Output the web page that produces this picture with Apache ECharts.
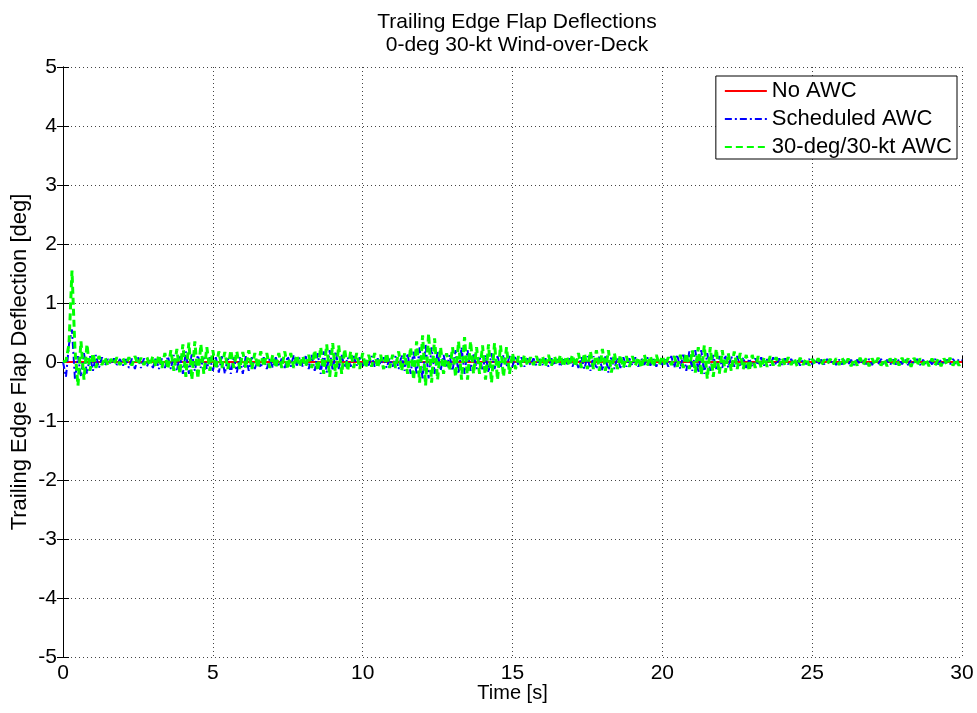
<!DOCTYPE html>
<html>
<head>
<meta charset="utf-8">
<script src="https://cdn.jsdelivr.net/npm/echarts@6/dist/echarts.min.js"></script>
<style>
  html, body { margin: 0; padding: 0; background: #fff; }
  #chart { width: 977px; height: 713px; }
</style>
</head>
<body>
<div id="chart"></div>
<script>
// Sampling of the recorded flap deflection histories
const sampleStart = 0;     // s
const sampleStep = 0.1;    // s

// No AWC: flap stays at neutral (coarse record, every 2 s)
const noAwcTimes = [0, 2, 4, 6, 8, 10, 12, 14, 16, 18, 20, 22, 24, 26, 28, 30];
const noAwcDeflection = [0, 0, 0, 0, 0, 0, 0, 0, 0, 0, 0, 0, 0, 0, 0, 0];

// Scheduled AWC deflection [deg], every 0.1 s from 0 to 30 s (one row per second)
const scheduledDeflection = [
  0, -0.25, 0.3, 0.55, -0.3, 0.1, -0.25, 0.15, -0.2, 0.1,
  -0.15, 0.12, -0.1, 0.08, -0.06, 0.05, -0.04, 0.06, -0.05, 0.05,
  -0.06, 0.05, -0.1, 0.06, -0.12, 0.08, -0.1, 0.06, -0.08, 0.05,
  -0.1, 0.08, -0.12, 0.06, -0.1, 0.1, -0.12, 0.12, -0.15, 0.12,
  -0.2, 0.18, -0.2, 0.15, -0.15, 0.12, -0.1, 0.1, -0.12, 0.08,
  -0.15, 0.08, -0.18, 0.1, -0.2, 0.08, -0.2, 0.1, -0.18, 0.08,
  -0.2, 0.1, -0.15, 0.08, -0.12, 0.06, -0.1, 0.08, -0.12, 0.06,
  -0.1, 0.08, -0.08, 0.06, -0.1, 0.1, -0.08, 0.12, -0.06, 0.08,
  -0.08, 0.1, -0.12, 0.12, -0.15, 0.15, -0.2, 0.18, -0.18, 0.2,
  -0.15, 0.18, -0.12, 0.12, -0.1, 0.08, -0.08, 0.1, -0.06, 0.08,
  -0.08, 0.06, -0.06, 0.1, -0.08, 0.06, -0.05, 0.08, -0.1, 0.06,
  -0.08, 0.1, -0.12, 0.12, -0.15, 0.15, -0.2, 0.2, -0.22, 0.25,
  -0.3, 0.3, -0.28, 0.25, -0.2, 0.18, -0.15, 0.12, -0.1, 0.12,
  -0.15, 0.2, -0.2, 0.25, -0.2, 0.2, -0.15, 0.15, -0.12, 0.1,
  -0.15, 0.12, -0.18, 0.15, -0.12, 0.1, -0.1, 0.12, -0.08, 0.1,
  -0.08, 0.1, -0.06, 0.08, -0.08, 0.06, -0.05, 0.06, -0.06, 0.05,
  -0.05, 0.06, -0.08, 0.06, -0.06, 0.05, -0.08, 0.06, -0.05, 0.06,
  -0.08, 0.06, -0.1, 0.08, -0.12, 0.1, -0.15, 0.1, -0.12, 0.1,
  -0.15, 0.12, -0.18, 0.1, -0.12, 0.08, -0.1, 0.08, -0.08, 0.06,
  -0.06, 0.08, -0.08, 0.06, -0.05, 0.08, -0.06, 0.05, -0.08, 0.06,
  -0.05, 0.06, -0.08, 0.1, -0.1, 0.12, -0.12, 0.15, -0.15, 0.18,
  -0.15, 0.2, -0.18, 0.2, -0.2, 0.15, -0.15, 0.12, -0.12, 0.1,
  -0.1, 0.12, -0.1, 0.1, -0.08, 0.1, -0.08, 0.08, -0.1, 0.06,
  -0.08, 0.06, -0.06, 0.08, -0.06, 0.05, -0.06, 0.08, -0.05, 0.06,
  -0.05, 0.06, -0.04, 0.05, -0.05, 0.04, -0.06, 0.05, -0.04, 0.05,
  -0.04, 0.05, -0.05, 0.04, -0.04, 0.05, -0.04, 0.04, -0.05, 0.04,
  -0.04, 0.05, -0.05, 0.04, -0.05, 0.04, -0.04, 0.05, -0.04, 0.05,
  -0.05, 0.04, -0.04, 0.05, -0.05, 0.04, -0.05, 0.04, -0.04, 0.05,
  -0.04, 0.05, -0.05, 0.04, -0.04, 0.05, -0.05, 0.04, -0.05, 0.04,
  -0.04, 0.05, -0.04, 0.04, -0.05, 0.04, -0.04, 0.05, -0.03, 0.05,
  0.03
];

// 30-deg/30-kt AWC deflection [deg], every 0.1 s from 0 to 30 s (one row per second)
const awc30Deflection = [
  0, 0.02, 0.3, 1.55, 0.2, -0.4, 0.35, -0.3, 0.3, -0.15,
  0.15, -0.1, 0.1, -0.05, 0.08, -0.06, 0.05, -0.04, 0.08, -0.05,
  0.06, -0.05, 0.08, -0.06, 0.1, -0.04, 0.07, -0.05, 0.08, -0.06,
  0.1, -0.08, 0.12, -0.1, 0.15, -0.12, 0.2, -0.15, 0.22, -0.2,
  0.3, -0.25, 0.33, -0.3, 0.35, -0.28, 0.3, -0.2, 0.25, -0.15,
  0.2, -0.12, 0.18, -0.1, 0.17, -0.12, 0.2, -0.1, 0.18, -0.12,
  0.17, -0.1, 0.2, -0.12, 0.15, -0.1, 0.18, -0.08, 0.15, -0.1,
  0.12, -0.1, 0.15, -0.1, 0.18, -0.12, 0.15, -0.1, 0.12, -0.08,
  0.1, -0.08, 0.12, -0.1, 0.2, -0.15, 0.25, -0.2, 0.3, -0.25,
  0.32, -0.25, 0.28, -0.2, 0.22, -0.15, 0.18, -0.1, 0.15, -0.12,
  0.15, -0.1, 0.12, -0.08, 0.15, -0.1, 0.12, -0.12, 0.15, -0.1,
  0.12, -0.1, 0.18, -0.15, 0.15, -0.2, 0.25, -0.3, 0.35, -0.35,
  0.45, -0.4, 0.48, -0.35, 0.4, -0.3, 0.25, -0.2, 0.15, -0.15,
  0.25, -0.25, 0.35, -0.3, 0.42, -0.3, 0.35, -0.2, 0.25, -0.2,
  0.28, -0.3, 0.3, -0.35, 0.32, -0.3, 0.28, -0.25, 0.25, -0.2,
  0.15, -0.12, 0.1, -0.08, 0.12, -0.06, 0.08, -0.05, 0.1, -0.06,
  0.1, -0.08, 0.12, -0.06, 0.1, -0.05, 0.12, -0.08, 0.1, -0.06,
  0.12, -0.08, 0.15, -0.1, 0.15, -0.12, 0.18, -0.12, 0.2, -0.15,
  0.22, -0.15, 0.2, -0.18, 0.15, -0.12, 0.12, -0.1, 0.1, -0.08,
  0.1, -0.06, 0.08, -0.1, 0.12, -0.06, 0.1, -0.08, 0.12, -0.05,
  0.1, -0.06, 0.08, -0.05, 0.1, -0.08, 0.12, -0.1, 0.15, -0.12,
  0.2, -0.18, 0.25, -0.22, 0.28, -0.28, 0.25, -0.25, 0.22, -0.2,
  0.2, -0.18, 0.15, -0.15, 0.18, -0.12, 0.15, -0.12, 0.12, -0.15,
  0.12, -0.1, 0.1, -0.1, 0.08, -0.08, 0.1, -0.06, 0.08, -0.07,
  0.07, -0.06, 0.08, -0.05, 0.06, -0.07, 0.07, -0.05, 0.06, -0.06,
  0.05, -0.04, 0.06, -0.05, 0.04, -0.03, 0.05, -0.04, 0.06, -0.05,
  0.07, -0.06, 0.06, -0.07, 0.05, -0.06, 0.07, -0.05, 0.06, -0.07,
  0.06, -0.05, 0.07, -0.06, 0.05, -0.07, 0.06, -0.05, 0.07, -0.06,
  0.07, -0.05, 0.06, -0.08, 0.07, -0.06, 0.06, -0.05, 0.05, -0.07,
  0.06, -0.06, 0.05, -0.07, 0.06, -0.05, 0.07, -0.06, 0.05, -0.06,
  0.02
];

const seriesNames = ['No AWC', 'Scheduled AWC', '30-deg/30-kt AWC'];
const timeTicks = [0, 5, 10, 15, 20, 25, 30];
const deflectionTicks = [-5, -4, -3, -2, -1, 0, 1, 2, 3, 4, 5];

const font = '"Liberation Sans", Arial, Helvetica, sans-serif';

function sampled(values) {
  return values.map((v, i) => [+(sampleStart + i * sampleStep).toFixed(2), v]);
}

const chart = echarts.init(document.getElementById('chart'), null, { renderer: 'canvas' });

const axisCommon = {
  axisLine: { show: true, lineStyle: { color: '#000', width: 1 } },
  axisTick: { show: true, inside: true, length: 6, lineStyle: { color: '#000' } },
  splitLine: { show: false }
};
const gridDots = { show: true, lineStyle: { color: '#444', type: [1, 3], width: 1 } };

chart.setOption({
  animation: false,
  backgroundColor: '#fff',
  title: {
    text: 'Trailing Edge Flap Deflections\n0-deg 30-kt Wind-over-Deck',
    left: 512,
    top: 6,
    textAlign: 'center',
    textStyle: { fontFamily: font, fontSize: 21, fontWeight: 'normal', color: '#000', lineHeight: 23 }
  },
  legend: {
    data: seriesNames,
    orient: 'vertical',
    right: 20,
    top: 76,
    align: 'left',
    padding: [4, 5, 1, 8],
    itemGap: 6,
    itemWidth: 42,
    itemHeight: 22,
    backgroundColor: '#fff',
    borderColor: '#000',
    borderWidth: 1,
    borderRadius: 0,
    itemStyle: { opacity: 0 },
    textStyle: { fontFamily: font, fontSize: 22, color: '#000' }
  },
  grid: { left: 63, right: 15, top: 67, bottom: 56, containLabel: false, outerBoundsMode: 'none' },
  xAxis: [
    Object.assign({}, axisCommon, {
      type: 'value', min: 0, max: 30, interval: 5,
      name: 'Time [s]', nameLocation: 'middle', nameGap: 26, nameMoveOverlap: false,
      nameTextStyle: { fontFamily: font, fontSize: 20, color: '#000' },
      axisLabel: {
        fontFamily: font, fontSize: 21, color: '#000', margin: 6,
        formatter: v => timeTicks.includes(v) ? String(v) : ''
      },
      splitLine: gridDots
    }),
    Object.assign({}, axisCommon, {
      type: 'value', min: 0, max: 30, interval: 5, position: 'top',
      axisLabel: { show: false }
    })
  ],
  yAxis: [
    Object.assign({}, axisCommon, {
      type: 'value', min: -5, max: 5, interval: 1,
      name: 'Trailing Edge Flap Deflection [deg]', nameLocation: 'middle', nameGap: 32, nameMoveOverlap: false,
      nameTextStyle: { fontFamily: font, fontSize: 22, color: '#000' },
      axisLabel: {
        fontFamily: font, fontSize: 21, color: '#000', margin: 6,
        formatter: v => deflectionTicks.includes(v) ? String(v) : ''
      },
      splitLine: gridDots
    }),
    Object.assign({}, axisCommon, {
      type: 'value', min: -5, max: 5, interval: 1, position: 'right',
      axisLabel: { show: false }
    })
  ],
  series: [
    {
      name: seriesNames[0], type: 'line', showSymbol: false, symbol: 'none',
      data: noAwcTimes.map((t, i) => [t, noAwcDeflection[i]]),
      lineStyle: { color: '#ff0000', width: 2, type: 'solid' },
      itemStyle: { color: '#ff0000' },
      z: 2
    },
    {
      name: seriesNames[1], type: 'line', showSymbol: false, symbol: 'none',
      data: sampled(scheduledDeflection),
      lineStyle: { color: '#0000ff', width: 2, type: [7, 3, 2, 3] },
      itemStyle: { color: '#0000ff' },
      z: 3
    },
    {
      name: seriesNames[2], type: 'line', showSymbol: false, symbol: 'none',
      data: sampled(awc30Deflection),
      lineStyle: { color: '#00ff00', width: 3, type: [7, 4] },
      itemStyle: { color: '#00ff00' },
      z: 4
    }
  ]
});
</script>
</body>
</html>
